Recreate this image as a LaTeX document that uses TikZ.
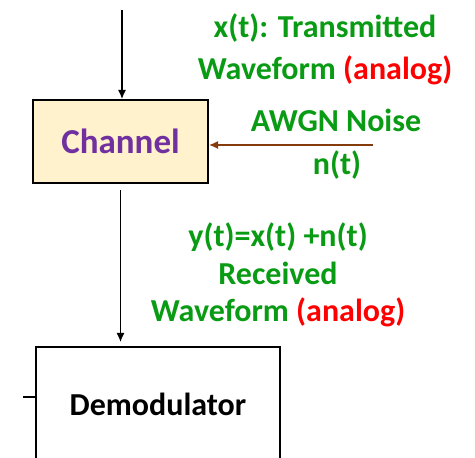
\documentclass[tikz,border=0pt]{standalone}
\usepackage{fontspec}
\setmainfont{Carlito}
\usetikzlibrary{arrows.meta}
\definecolor{lblgreen}{RGB}{10,155,20}
\definecolor{lblred}{RGB}{255,0,0}
\definecolor{chanpurple}{RGB}{112,48,160}
\definecolor{chanfill}{RGB}{255,242,204}
\definecolor{noisebrown}{RGB}{132,60,12}
\tikzset{
	blockbox/.style={draw=black, line width=2pt, rectangle, font=\bfseries\fontsize{32}{36}\selectfont},
	greenlbl/.style={text=lblgreen, align=center, font=\bfseries\fontsize{32}{42}\selectfont},
	sigarrow/.style={line width=1.4pt, -{Latex[length=9pt,width=8pt]}}
}

\begin{document}
\begin{tikzpicture}[x=1pt, y=1pt]
			%%%%% START %%%%%
			\clip (0, 0) rectangle (475, 458);
			
			\node[blockbox, fill=chanfill, text=chanpurple, font=\bfseries\fontsize{35}{40}\selectfont, minimum width=175, minimum height=83] (chan) at (120.5, 316.5) {Channel};
			\node[blockbox, minimum width=244, minimum height=114] (demod) at (158, 54) {Demodulator};
			
			\coordinate (xin) at (122, 448);
			\coordinate (noise) at (373, 313);
			\coordinate (fb) at (23, 61);
			
			\draw[sigarrow] (xin) -- (xin |- chan.north);
			\draw[sigarrow, color=noisebrown] (noise) -- (noise -| chan.east);
			\draw[sigarrow] ([yshift=-6pt]chan.south) -- ([yshift=4pt]chan.south |- demod.north);
			\draw[line width=1.5pt] (fb) -- (fb -| demod.west);
			
			\node[greenlbl] (xlbl) at (325, 409) {x(t): Transmitted\\Waveform \textcolor{lblred}{(analog)}};
			\node[greenlbl] (awgn) at (336, 338) {AWGN Noise};
			\node[greenlbl] (nlbl) at (337, 293) {n(t)};
			\node[greenlbl, font=\bfseries\fontsize{32}{37.5}\selectfont] (ylbl) at (278, 183) {y(t)=x(t) +n(t)\\Received\\Waveform \textcolor{lblred}{(analog)}};
			
			%%%%% END %%%%%
\end{tikzpicture}
\end{document}
